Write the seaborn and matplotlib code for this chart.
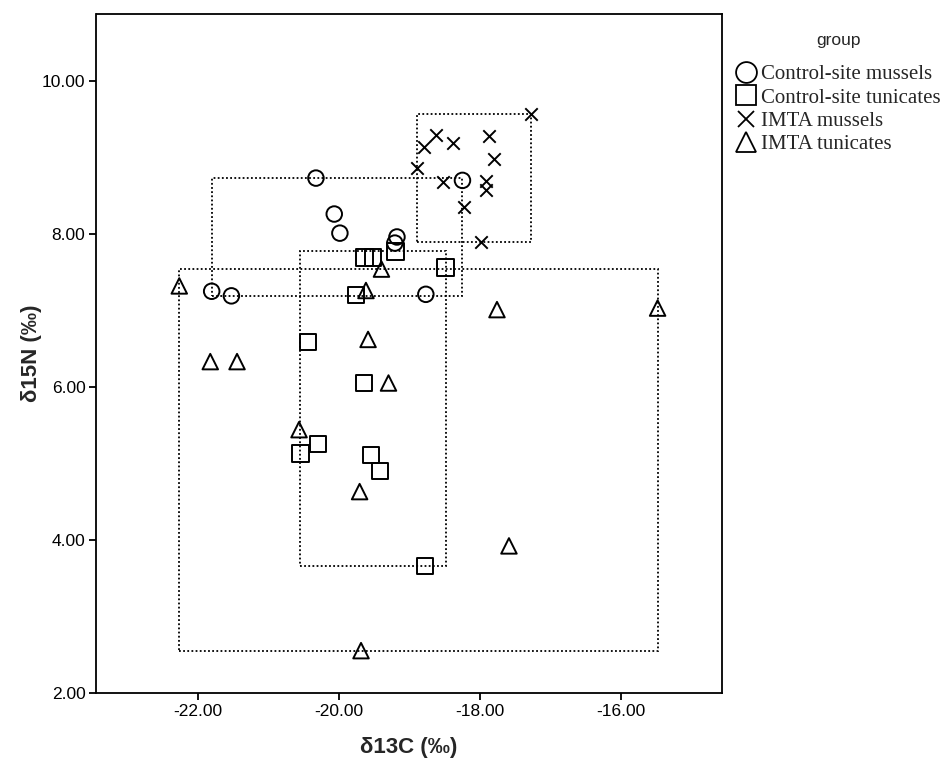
import numpy as np
import pandas as pd
import matplotlib
matplotlib.use("Agg")
import matplotlib.pyplot as plt
import seaborn as sns
from matplotlib.lines import Line2D
from matplotlib.patches import Rectangle

# ---------------- data ----------------
groups = ["Control-site mussels", "Control-site tunicates", "IMTA mussels", "IMTA tunicates"]

cm_d13c = [-21.81, -21.53, -20.33, -20.07, -19.99, -19.18, -19.21, -18.25, -18.77]
cm_d15n = [7.25, 7.19, 8.73, 8.26, 8.01, 7.96, 7.88, 8.70, 7.21]

ct_d13c = [-19.64, -19.52, -19.20, -18.49, -19.76, -20.44, -19.65, -20.30, -20.55, -19.55, -19.42, -18.78]
ct_d15n = [7.69, 7.69, 7.77, 7.56, 7.20, 6.59, 6.05, 5.25, 5.13, 5.11, 4.90, 3.66]

im_d13c = [-17.28, -18.62, -18.79, -18.38, -17.88, -17.80, -18.89, -18.52, -17.91, -17.92, -18.23, -17.99]
im_d15n = [9.57, 9.29, 9.14, 9.19, 9.28, 8.98, 8.86, 8.68, 8.69, 8.57, 8.35, 7.89]

it_d13c = [-22.27, -21.83, -21.45, -19.40, -19.62, -19.59, -17.76, -15.48, -17.59, -19.30, -20.57, -19.71, -19.69]
it_d15n = [7.32, 6.33, 6.33, 7.54, 7.26, 6.62, 7.01, 7.03, 3.92, 6.05, 5.44, 4.63, 2.55]

x_ticks = [-22, -20, -18, -16]
y_ticks = [2, 4, 6, 8, 10]

df = pd.concat([
    pd.DataFrame({"d13C": cm_d13c, "d15N": cm_d15n, "group": groups[0]}),
    pd.DataFrame({"d13C": ct_d13c, "d15N": ct_d15n, "group": groups[1]}),
    pd.DataFrame({"d13C": im_d13c, "d15N": im_d15n, "group": groups[2]}),
    pd.DataFrame({"d13C": it_d13c, "d15N": it_d15n, "group": groups[3]}),
], ignore_index=True)

# ---------------- style ----------------
sns.set_style("ticks")
plt.rcParams["font.family"] = ["Liberation Sans", "DejaVu Sans"]

markers = {groups[0]: "o", groups[1]: "s", groups[2]: "x", groups[3]: "^"}
sizes = {groups[0]: 125, groups[1]: 140, groups[2]: 80, groups[3]: 125}
leg_ms = {groups[0]: 15, groups[1]: 15, groups[2]: 12, groups[3]: 14.5}

fig = plt.figure(figsize=(9.45, 7.65), dpi=100)
ax = fig.add_axes([96.5 / 945, 1 - 692.7 / 765, (721.7 - 96.5) / 945, (692.7 - 14) / 765])

# bounding boxes (dotted) per group
for g in groups:
    sub = df[df["group"] == g]
    x0, x1 = sub["d13C"].min(), sub["d13C"].max()
    y0, y1 = sub["d15N"].min(), sub["d15N"].max()
    ax.add_patch(Rectangle((x0, y0), x1 - x0, y1 - y0, fill=False,
                           edgecolor="black", linewidth=1.3,
                           linestyle=(0, (1, 1.3)), zorder=1))

for g in groups:
    sub = df[df["group"] == g]
    if markers[g] == "x":
        sns.scatterplot(data=sub, x="d13C", y="d15N", marker="x", s=sizes[g],
                        color="black", linewidth=1.4, ax=ax, zorder=3, legend=False)
    else:
        sns.scatterplot(data=sub, x="d13C", y="d15N", marker=markers[g], s=sizes[g],
                        facecolor="none", edgecolor="black", linewidth=1.4,
                        ax=ax, zorder=3, legend=False)

ax.set_xlim(-23.445, -14.57)
ax.set_ylim(2.0, 10.876)
ax.set_xticks(x_ticks)
ax.set_yticks(y_ticks)
ax.set_xticklabels([f"{v:.2f}" for v in x_ticks])
ax.set_yticklabels([f"{v:.2f}" for v in y_ticks])
ax.tick_params(axis="both", direction="out", length=5, width=1.3, colors="black",
               labelsize=12.5, pad=3)
for sp in ax.spines.values():
    sp.set_visible(True)
    sp.set_color("black")
    sp.set_linewidth(1.3)

ax.set_xlabel("δ13C (‰)", fontsize=16, fontweight="bold", labelpad=13)
ax.set_ylabel("δ15N (‰)", fontsize=16, fontweight="bold", labelpad=0)

# legend
handles = [Line2D([], [], marker=markers[g], linestyle="none", markersize=leg_ms[g],
                  markerfacecolor="none", markeredgecolor="black", markeredgewidth=1.3,
                  color="black")
           for g in groups]
leg = fig.legend(handles, groups, loc="upper left",
                 bbox_to_anchor=(735.7 / 945, 1 - 33 / 765),
                 bbox_transform=fig.transFigure, frameon=False,
                 title="group", borderpad=0, borderaxespad=0,
                 handlelength=1.0, handletextpad=0.2, labelspacing=0.18,
                 prop={"family": "Liberation Serif", "size": 15},
                 title_fontproperties={"family": "Liberation Sans", "size": 12.5})
leg._legend_box.sep = 12

fig.savefig("out.png", dpi=100)
